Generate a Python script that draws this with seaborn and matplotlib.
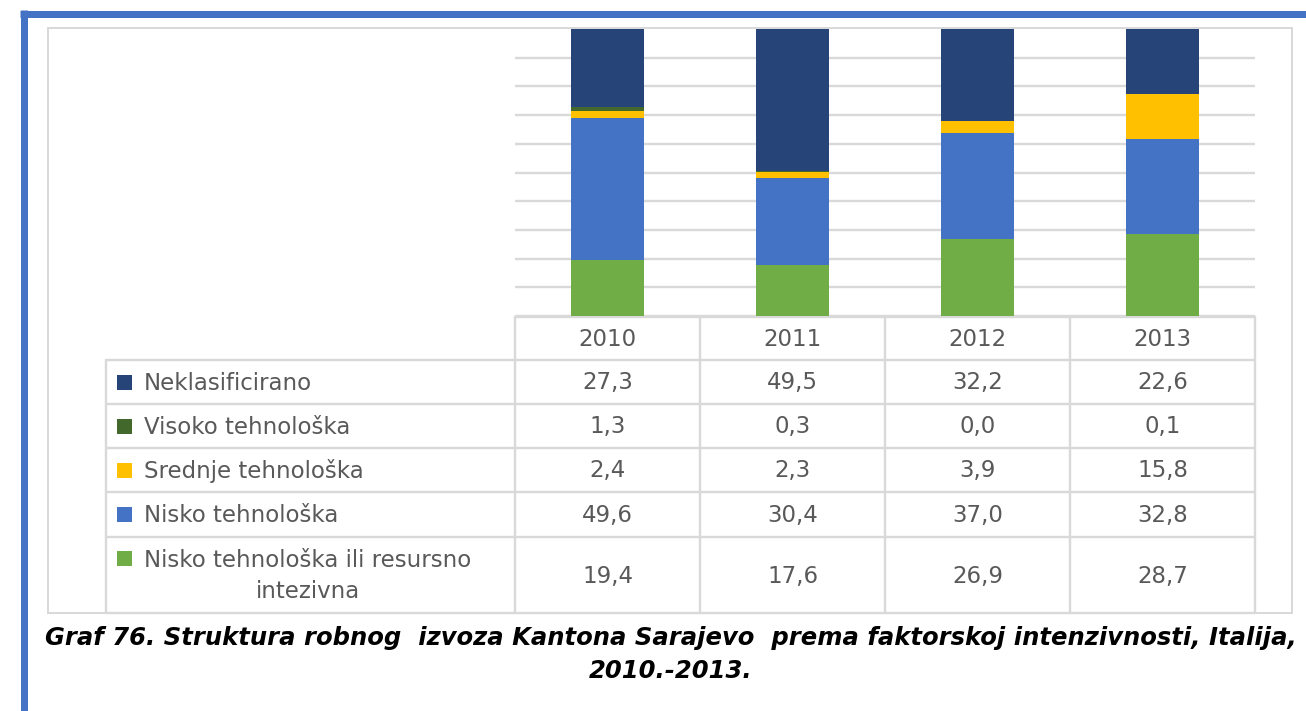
import matplotlib
matplotlib.use("Agg")
import matplotlib.pyplot as plt
from matplotlib import font_manager
from matplotlib.patches import Rectangle
import seaborn as sns
import pandas as pd

# Export structure by factor intensity, shares in %
years = ["2010", "2011", "2012", "2013"]
series_names = [
    "Neklasificirano",
    "Visoko tehnološka",
    "Srednje tehnološka",
    "Nisko tehnološka",
    "Nisko tehnološka ili resursno\nintezivna",
]
neklasificirano = [27.3, 49.5, 32.2, 22.6]
visoko = [1.3, 0.3, 0.0, 0.1]
srednje = [2.4, 2.3, 3.9, 15.8]
nisko = [49.6, 30.4, 37.0, 32.8]
nisko_resursno = [19.4, 17.6, 26.9, 28.7]
series_colors = ["#264478", "#43682B", "#FFC000", "#4472C4", "#70AD47"]

caption_line1 = ("Graf 76. Struktura robnog  izvoza Kantona Sarajevo  prema "
                 "faktorskoj intenzivnosti, Italija,")
caption_line2 = "2010.-2013."

rows = [neklasificirano, visoko, srednje, nisko, nisko_resursno]
df = pd.DataFrame({name: vals for name, vals in zip(series_names, rows)}, index=years)

sns.set_theme(style="white")
plt.rcParams["font.family"] = ["DejaVu Sans"]

W, H = 1306, 711
fig = plt.figure(figsize=(W / 100, H / 100), dpi=100)
fig.patch.set_facecolor("white")

# overlay in pixel units for frame, table grid and text
ov = fig.add_axes([0, 0, 1, 1])
ov.set_xlim(0, W)
ov.set_ylim(H, 0)
ov.axis("off")

def px(v):
    return v * 0.72

GRID = "#D9D9D9"
TXT = "#595959"

# outer blue frame (top and left)
ov.plot([20, W], [13.5, 13.5], color="#4472C4", lw=px(7), solid_capstyle="butt")
ov.plot([23.5, 23.5], [10, H], color="#4472C4", lw=px(7), solid_capstyle="butt")

# chart area border
ov.add_patch(Rectangle((48, 28), 1292 - 48, 613 - 28, fill=False,
                       edgecolor=GRID, lw=px(2)))

# bar plot area
plot_left, plot_right, plot_top, plot_bottom = 515, 1255, 29, 316
ax = fig.add_axes([plot_left / W, 1 - plot_bottom / H,
                   (plot_right - plot_left) / W, (plot_bottom - plot_top) / H])
ax.set_facecolor("none")

# stacked bars: draw cumulative totals from the top segment down
for i, (name, color) in enumerate(zip(series_names, series_colors)):
    cum = df[series_names[i:]].sum(axis=1)
    sns.barplot(x=df.index, y=cum.values, color=color, saturation=1,
                width=0.395, linewidth=0, ax=ax, zorder=3)

ax.set_xlim(-0.5, 3.5)
ax.set_ylim(0, 100)
ax.set_yticks(range(0, 100, 10))
ax.yaxis.grid(True, color=GRID, lw=px(2.4), zorder=0)
ax.set_axisbelow(True)
ax.tick_params(left=False, bottom=False, labelleft=False, labelbottom=False)
ax.set_xlabel("")
ax.set_ylabel("")
for s in ax.spines.values():
    s.set_visible(False)

# data table beneath the bars
col_edges = [515, 700, 885, 1070, 1255]
row_edges = [360, 404, 448, 492, 537, 613]
table_left = 106
lw_t = px(2.4)
ov.plot([515, 1255], [317, 317], color=GRID, lw=lw_t)
for y in row_edges:
    ov.plot([table_left, 1255], [y, y], color=GRID, lw=lw_t)
ov.plot([table_left, table_left], [360, 613], color=GRID, lw=lw_t)
for x in col_edges:
    ov.plot([x, x], [317, 613], color=GRID, lw=lw_t)

FS = 16.5
for j, yr in enumerate(years):
    cx = (col_edges[j] + col_edges[j + 1]) / 2
    ov.text(cx, 339, yr, ha="center", va="center", fontsize=FS, color=TXT)

for i, (name, color, vals) in enumerate(zip(series_names, series_colors, rows)):
    cy = (row_edges[i] + row_edges[i + 1]) / 2
    if "\n" in name:
        sq_y = 558
    else:
        sq_y = cy
    ov.add_patch(Rectangle((117, sq_y - 7.5), 15, 15, facecolor=color,
                           edgecolor="none"))
    ov.text(144, cy + 1, name, ha="left", va="center", fontsize=FS,
            color=TXT, multialignment="center", linespacing=1.45)
    for j, v in enumerate(vals):
        cx = (col_edges[j] + col_edges[j + 1]) / 2
        ov.text(cx, cy + 1, f"{v:.1f}".replace(".", ","), ha="center",
                va="center", fontsize=FS, color=TXT)

# caption
names = {f.name for f in font_manager.fontManager.ttflist}
cap_family = "Liberation Sans Narrow" if "Liberation Sans Narrow" in names else "DejaVu Sans"
cap_kw = dict(ha="center", va="center", fontweight="bold", fontstyle="italic",
              color="black", family=cap_family)
t1 = ov.text(671, 638, caption_line1, fontsize=20, **cap_kw)
fig.canvas.draw()
w = t1.get_window_extent().width
fs_cap = 20 * 1252 / w
t1.set_fontsize(fs_cap)
ov.text(671, 671, caption_line2, fontsize=fs_cap, **cap_kw)

fig.savefig("out.png", dpi=100, facecolor="white")
